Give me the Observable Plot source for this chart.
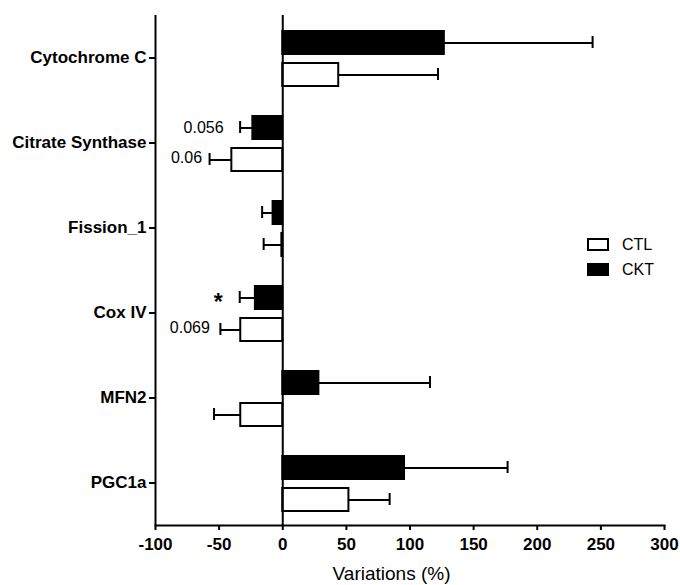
<!DOCTYPE html>
<html>
<head>
<meta charset="utf-8">
<script src="https://cdn.jsdelivr.net/npm/d3@7"></script>
<script src="https://cdn.jsdelivr.net/npm/@observablehq/plot@0.6"></script>
<style>
  html, body { margin: 0; padding: 0; background: #fff; }
  #wrap { position: relative; width: 680px; height: 585px; font-family: "Liberation Sans", Arial, Helvetica, sans-serif; }
  #legend { position: absolute; left: 587px; top: 232px; font-size: 16px; color: #000; }
  .item { display: flex; align-items: center; height: 25px; }
  .sw { width: 18px; height: 9px; border: 2px solid #000; margin-right: 13px; box-sizing: content-box; }
</style>
</head>
<body>
<div id="wrap"><div id="legend"></div></div>
<script>
const categories = ["Cytochrome C", "Citrate Synthase", "Fission_1", "Cox IV", "MFN2", "PGC1a"];
const ctlMean = [44, -40, -0.7, -33, -33, 52];
const ctlSd   = [78, 17.5, 14.3, 16, 21, 32];
const cktMean = [127, -23.5, -7.6, -21.5, 28.4, 95.7];
const cktSd   = [116.5, 10, 8.6, 12.3, 87.3, 81];
const xTicks = [-100, -50, 0, 50, 100, 150, 200, 250, 300];
const seriesNames = ["CTL", "CKT"];
const seriesFill = ["white", "black"];

// p-value style annotations
const annCategory = ["Citrate Synthase", "Citrate Synthase", "Cox IV"];
const annSeries = ["CKT", "CTL", "CTL"];
const annText = ["0.056", "0.06", "0.069"];
const starCategory = ["Cox IV"];

const mk = (means, sds, s) => categories.map((c, i) => ({
  cat: c, series: s, mean: means[i],
  cap: means[i] + Math.sign(means[i] || 1) * sds[i]
}));
const ctl = mk(ctlMean, ctlSd, "CTL");
const ckt = mk(cktMean, cktSd, "CKT");
const all = ctl.concat(ckt);
const ann = annText.map((t, i) => {
  const row = all.find(d => d.cat === annCategory[i] && d.series === annSeries[i]);
  return {cat: row.cat, series: row.series, cap: row.cap, text: t};
});
const stars = starCategory.map(c => ckt.find(d => d.cat === c));

const font = "'Liberation Sans', Arial, Helvetica, sans-serif";
// label placement offsets (styling, per annotation)
const annDx = [-16.5, -7.5, -10.5];
const annDy = [-15, 15, 15];

const chart = Plot.plot({
  width: 680,
  height: 585,
  marginTop: 15,
  marginBottom: 60,
  marginLeft: 155,
  marginRight: 16,
  style: {fontFamily: font, color: "#000", background: "#fff", overflow: "visible"},
  x: {domain: [-100, 300]},
  y: {type: "band", domain: categories, padding: 0},
  marks: [
    // CKT bars (upper)
    Plot.barX(ckt, {y: "cat", x1: 0, x2: "mean", fill: "black", stroke: "black", strokeWidth: 2, insetTop: 16, insetBottom: 46}),
    // CTL bars (lower)
    Plot.barX(ctl, {y: "cat", x1: 0, x2: "mean", fill: "white", stroke: "black", strokeWidth: 2, insetTop: 48, insetBottom: 14}),
    // error bars
    Plot.ruleY(ckt, {y: "cat", x1: "mean", x2: "cap", stroke: "black", strokeWidth: 2, dy: -15}),
    Plot.ruleY(ctl, {y: "cat", x1: "mean", x2: "cap", stroke: "black", strokeWidth: 2, dy: 17}),
    Plot.tickX(ckt, {y: "cat", x: "cap", stroke: "black", strokeWidth: 2, insetTop: 21, insetBottom: 52}),
    Plot.tickX(ctl, {y: "cat", x: "cap", stroke: "black", strokeWidth: 2, insetTop: 53, insetBottom: 20}),
    // zero line
    Plot.ruleX([0], {stroke: "black", strokeWidth: 2}),
    // axes lines
    Plot.ruleX([-100], {stroke: "black", strokeWidth: 2}),
    Plot.frame({anchor: "bottom", stroke: "black", strokeWidth: 2}),
    // annotations
    ...ann.map((d, i) => Plot.text([d], {y: "cat", x: "cap", text: "text", textAnchor: "end", dx: annDx[i], dy: annDy[i], fontSize: 16})),
    Plot.text(stars, {y: "cat", x: "cap", text: () => "*", textAnchor: "middle", dx: -21.5, dy: -10, fontSize: 23, fontWeight: "bold"}),
    // axes
    Plot.axisY({tickSize: 6, tickPadding: 3, fontSize: 17, fontWeight: "bold", label: null, strokeWidth: 2}),
    Plot.axisX({ticks: xTicks, tickFormat: d => `${d}`, tickSize: 5, tickPadding: 7, fontSize: 17, fontWeight: "bold", label: null, strokeWidth: 2}),
    Plot.text(["Variations (%)"], {frameAnchor: "bottom", dy: 54, dx: -18.5, fontSize: 19})
  ]
});

const wrap = document.getElementById("wrap");
wrap.insertBefore(chart, wrap.firstChild);

const legend = document.getElementById("legend");
seriesNames.forEach((s, i) => {
  const item = document.createElement("div");
  item.className = "item";
  const sw = document.createElement("span");
  sw.className = "sw";
  sw.style.background = seriesFill[i];
  const lab = document.createElement("span");
  lab.textContent = s;
  item.appendChild(sw);
  item.appendChild(lab);
  legend.appendChild(item);
});
</script>
</body>
</html>
